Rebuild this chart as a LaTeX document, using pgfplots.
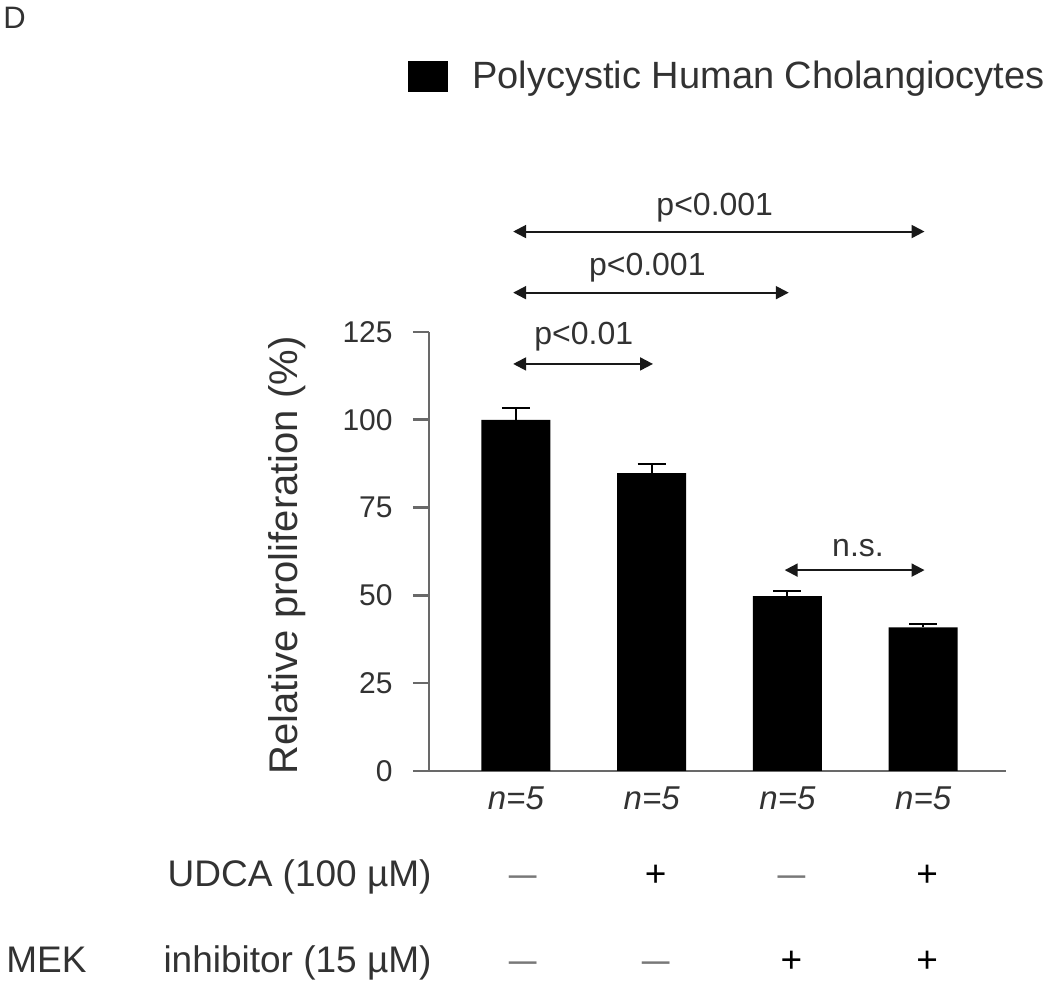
\documentclass[border=0pt]{standalone}
\usepackage{fontspec}
\setmainfont{Liberation Sans}
\usepackage{pgfplots}
\pgfplotsset{compat=1.18}
\usetikzlibrary{arrows.meta}
\definecolor{txt}{RGB}{50,50,50}
\definecolor{axg}{RGB}{105,105,105}
\definecolor{dashg}{RGB}{120,120,120}

\begin{document}
\begin{tikzpicture}
\path[use as bounding box] (-214.5pt,-108.5pt) rectangle (310.5pt,385.5pt);
\node[anchor=north west, inner sep=0pt, font=\fontsize{15.5}{18}\selectfont, text=txt] at (-213pt,382pt) {D};
\begin{axis}[
  at={(0pt,0pt)}, anchor=south west,
  scale only axis, width=288.5pt, height=219.5pt,
  xmin=-0.64, xmax=3.61, ymin=0, ymax=125,
  axis x line*=bottom, axis y line*=left,
  axis line style={axg, line width=1.3pt},
  ytick={0,25,50,75,100,125},
  xtick={0,1,2,3},
  xticklabels={n=5,n=5,n=5,n=5},
  xticklabel style={font=\fontsize{16.5}{19}\selectfont\itshape, text=txt, inner sep=0pt, yshift=0.5pt},
  tick align=outside, major tick length=8pt,
  ytick style={axg, line width=1.3pt},
  xtick style={draw=none},
  yticklabel style={font=\fontsize{15}{18}\selectfont, text=txt, inner sep=0pt, xshift=-10pt},
  /pgf/number format/assume math mode=true,
  ylabel={Relative proliferation (\%)},
  ylabel style={font=\fontsize{20}{23}\selectfont, text=txt, at={(axis description cs:-0.2452,0.491)}, anchor=center, inner sep=0pt},
  clip=false,
  legend style={at={(rel axis cs:-0.0364,1.583)}, anchor=west, draw=none, fill=none, inner sep=0pt,
    nodes={inner sep=0pt, font=\fontsize{19}{22}\selectfont, text=txt}, column sep=12pt},
  legend image code/.code={\fill[black] (0pt,-7.75pt) rectangle (20pt,7.75pt);},
]
\addplot[ybar, bar width=34.5pt, fill=black, draw=none,
  error bars/.cd, y dir=plus, y explicit, error mark=|,
  error bar style={black, line width=1pt},
  error mark options={black, line width=1pt, mark size=7pt}]
  coordinates {(0,100) +- (0,3.3) (1,84.8) +- (0,2.5) (2,49.8) +- (0,1.5) (3,40.9) +- (0,1.0)};
\addlegendentry{Polycystic Human Cholangiocytes}

\tikzset{sig/.style={{Triangle[length=6.5pt,width=6.5pt]}-{Triangle[length=6.5pt,width=6.5pt]}, line width=1pt, black!90},
  plab/.style={anchor=base, inner sep=0pt, font=\fontsize{16}{19}\selectfont, text=txt}}
\draw[sig] (axis cs:-0.02,153.6) -- (axis cs:3.01,153.6);
\draw[sig] (axis cs:-0.02,136.2) -- (axis cs:2.01,136.2);
\draw[sig] (axis cs:-0.02,115.9) -- (axis cs:1.01,115.9);
\draw[sig] (axis cs:1.98,57.2) -- (axis cs:3.01,57.2);
\node[plab] at (axis cs:1.465,158.3) {p<0.001};
\node[plab] at (axis cs:0.968,141.2) {p<0.001};
\node[plab] at (axis cs:0.50,121.3) {p<0.01};
\node[plab] at (axis cs:2.52,61.0) {n.s.};

\tikzset{rowlab/.style={anchor=base east, inner sep=0pt, font=\fontsize{18.5}{22}\selectfont, text=txt},
  sym/.style={anchor=base, inner sep=0pt, font=\fontsize{18.5}{22}\selectfont}}
\node[rowlab] at ([shift={(1.5pt,-57.85pt)}]axis cs:-0.64,0) {UDCA (100 µM)};
\node[rowlab] at ([shift={(1.5pt,-101pt)}]axis cs:-0.64,0) {inhibitor (15 µM)};
\node[anchor=base west, inner sep=0pt, font=\fontsize{18.5}{22}\selectfont, text=txt] at ([shift={(-211.5pt,-101pt)}]axis cs:-0.64,0) {MEK};
% UDCA row
\node[sym, text=dashg] at ([yshift=-57.85pt]axis cs:0.05,0) {\scalebox{0.75}[1]{—}};
\node[sym, text=black] at ([yshift=-57.85pt]axis cs:1.03,0) {+};
\node[sym, text=dashg] at ([yshift=-57.85pt]axis cs:2.03,0) {\scalebox{0.75}[1]{—}};
\node[sym, text=black] at ([yshift=-57.85pt]axis cs:3.03,0) {+};
% MEK row
\node[sym, text=dashg] at ([yshift=-101pt]axis cs:0.05,0) {\scalebox{0.75}[1]{—}};
\node[sym, text=dashg] at ([yshift=-101pt]axis cs:1.03,0) {\scalebox{0.75}[1]{—}};
\node[sym, text=black] at ([yshift=-101pt]axis cs:2.03,0) {+};
\node[sym, text=black] at ([yshift=-101pt]axis cs:3.03,0) {+};
\end{axis}
\end{tikzpicture}
\end{document}
